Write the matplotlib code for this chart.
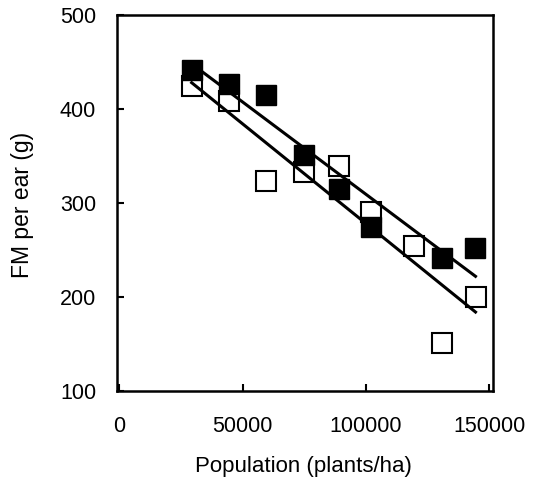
import matplotlib
matplotlib.use("Agg")
import matplotlib.pyplot as plt

plt.rcParams['font.family'] = ['Liberation Sans', 'DejaVu Sans']

# Data
pop_filled = [29500, 44600, 59300, 74900, 89000, 102000, 131000, 144200]
fm_filled = [442, 427, 415, 351, 315, 274, 242, 252]

pop_open = [29500, 44600, 59300, 74900, 89000, 102000, 119500, 131000, 144500]
fm_open = [424, 408, 323, 333, 339, 290, 254, 151, 200]

# Fitted lines (endpoints)
fit_filled_x = [33400, 144500]
fit_filled_y = [440, 222]
fit_open_x = [29300, 144500]
fit_open_y = [428, 184]

xticks = [0, 50000, 100000, 150000]
yticks = [100, 200, 300, 400, 500]

fig = plt.figure(figsize=(5.41, 4.86), dpi=100)
ax = fig.add_axes([117/541, 1-391/486, (493-117)/541, (391-15)/486])

ax.plot(pop_open, fm_open, linestyle='none', marker='s', markersize=14.5,
        markerfacecolor='white', markeredgecolor='black', markeredgewidth=1.5, zorder=2)
ax.plot(pop_filled, fm_filled, linestyle='none', marker='s', markersize=14.5,
        markerfacecolor='black', markeredgecolor='black', markeredgewidth=1.0, zorder=3)
ax.plot(fit_filled_x, fit_filled_y, color='black', linewidth=2.2, zorder=4)
ax.plot(fit_open_x, fit_open_y, color='black', linewidth=2.2, zorder=4)

ax.set_xlim(-1000, 151600)
ax.set_ylim(100, 500)
ax.set_xticks(xticks)
ax.set_yticks(yticks)
ax.set_xticklabels([str(v) for v in xticks])
ax.set_yticklabels([str(v) for v in yticks])
ax.tick_params(direction='in', length=5, width=1.5, labelsize=15.5)
ax.tick_params(axis='x', pad=18)
ax.tick_params(axis='y', pad=15)
for s in ax.spines.values():
    s.set_linewidth(1.8)

ax.set_xlabel('Population (plants/ha)', fontsize=16)
ax.set_ylabel('FM per ear (g)', fontsize=16.5)
ax.xaxis.set_label_coords(0.497, -0.172)
ax.yaxis.set_label_coords(-0.221, 0.495)

fig.savefig('out.png', dpi=100)
